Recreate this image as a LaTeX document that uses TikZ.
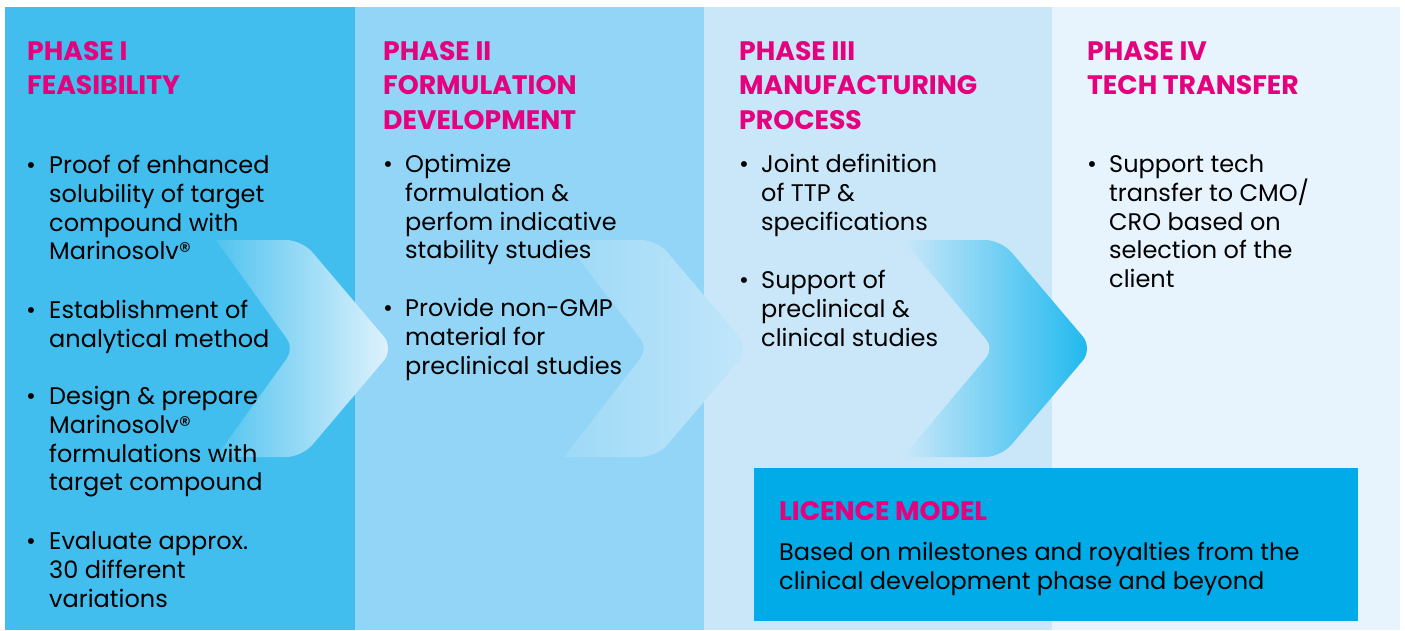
\documentclass[tikz,border=0pt]{standalone}
\usepackage{fontspec}
\setmainfont{Poppins}
\definecolor{pone}{HTML}{42BEEE}
\definecolor{ptwo}{HTML}{93D5F6}
\definecolor{pthree}{HTML}{C9E7F9}
\definecolor{pfour}{HTML}{E8F4FD}
\definecolor{licbox}{HTML}{00ABE7}
\definecolor{magent}{HTML}{E5007E}
\definecolor{chone}{HTML}{E3F3FD}
\definecolor{chtwo}{HTML}{C2E6FA}
\definecolor{chthree}{HTML}{1CB8EE}
\newcommand\chevpath[3]{% left x, tip x, notch x
  (#1,240) [rounded corners=16] -- (#2-92,240) -- (#2,348.5) -- (#2-92,457) [sharp corners] -- (#1,457) [rounded corners=12] -- (#3,348.5) [sharp corners] -- cycle}
\tikzset{
  panel/.style={draw=none, inner sep=0},
  headtxt/.style={anchor=north west, inner sep=0, align=left, text=magent,
    font=\fontsize{26.7}{34.5}\selectfont\bfseries},
  bodytxt/.style={anchor=north west, inner sep=0, align=left, text=black,
    font=\fontsize{24}{28.7}\selectfont},
  bul/.style={anchor=base, inner sep=0, text=black, font=\fontsize{24}{28.7}\selectfont},
}
% #1 name, #2 text x, #3 bullet x, #4 first baseline, #5 text
\newcommand\bitem[5]{%
  \node[bodytxt] (#1) at (#2,#4-20.09) {\strut #5};
  \node[bul] (#1b) at (#3,#4) {•};
}
\lineskiplimit=-50pt\relax
\begin{document}
\begin{tikzpicture}[x=1pt,y=-1pt]
\useasboundingbox (0,0) rectangle (1405,630);
\fill[white] (0,0) rectangle (1405,630);
% panels
\fill[pone]   (5,7) rectangle (355,630);
\fill[ptwo]   (355,7) rectangle (704,630);
\fill[pthree] (704,7) rectangle (1052,630);
\fill[pfour]  (1052,7) rectangle (1400,630);
% chevrons
\shade[left color=pone!92!white, right color=chone]
  \chevpath{216}{394}{294};
\shade[left color=ptwo!90!white, right color=chtwo]
  \chevpath{564}{749}{648};
\shade[left color=pthree, right color=chthree]
  \chevpath{903}{1093}{994};
% licence box
\node[panel, fill=licbox, minimum width=604pt, minimum height=153pt, anchor=north west] (lic) at (754,468) {};
% headings
\node[headtxt] (h1) at (27,60-24.15) {\strut PHASE I\\FEASIBILITY};
\node[headtxt] (h2) at (383,60-24.15) {\strut PHASE II\\FORMULATION\\DEVELOPMENT};
\node[headtxt] (h3) at (739,60-24.15) {\strut PHASE III\\MANUFACTURING\\PROCESS};
\node[headtxt] (h4) at (1087,60-24.15) {\strut PHASE IV\\TECH TRANSFER};
% panel 1
\bitem{a1}{49}{31}{173.5}{Proof of enhanced\\solubility of target\\compound with\\Marinosolv®}
\bitem{a2}{49}{31}{318.5}{Establishment of\\analytical method}
\bitem{a3}{49}{31}{404.5}{Design \& prepare\\Marinosolv®\\formulations with\\target compound}
\bitem{a4}{49}{31}{549.5}{Evaluate approx.\\30 different\\variations}
% panel 2
\bitem{b1}{405}{388}{172.5}{Optimize\\formulation \&\\perfom indicative\\stability studies}
\bitem{b2}{405}{388}{316.5}{Provide non-GMP\\material for\\preclinical studies}
% panel 3
\bitem{c1}{761}{744}{172.5}{Joint definition\\of TTP \&\\specifications}
\bitem{c2}{761}{744}{288.5}{Support of\\preclinical \&\\clinical studies}
% panel 4
\bitem{d1}{1109}{1092}{172.5}{Support tech\\transfer to CMO/\\CRO based on\\selection of the\\client}
% licence text
\node[headtxt] (lh) at (779,520-24.15) {\strut LICENCE MODEL};
\node[bodytxt] (lb) at (779,560.5-20.09) {\strut Based on milestones and royalties from the\\clinical development phase and beyond};
\end{tikzpicture}
\end{document}
